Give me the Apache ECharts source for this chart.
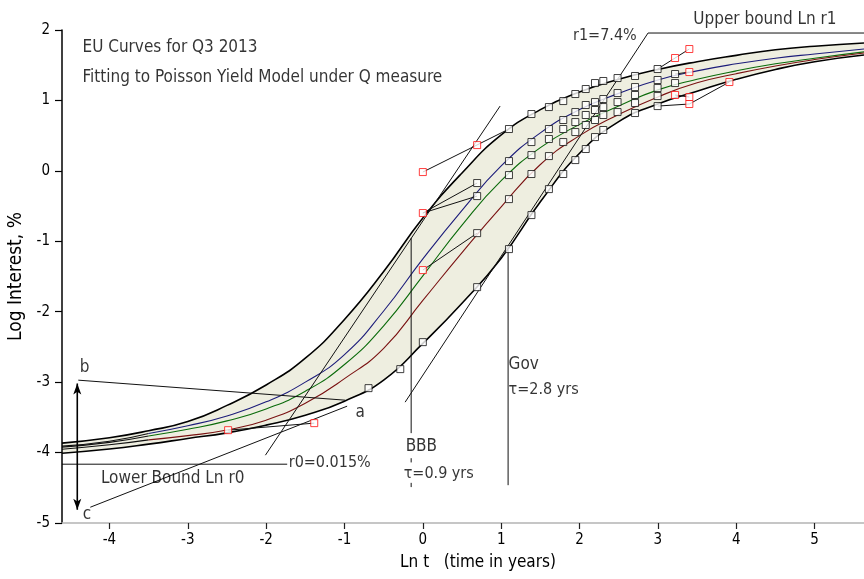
<!DOCTYPE html>
<html><head><meta charset="utf-8">
<script src="https://cdn.jsdelivr.net/npm/echarts@6/dist/echarts.min.js"></script>
<style>html,body{margin:0;padding:0;background:#fff}#c{width:864px;height:579px}</style>
</head><body><div id="c"></div>
<script>
const FONT = "'Liberation Sans Narrow','Arial Narrow','DejaVu Sans Condensed',sans-serif";
const FILL = '#eeeee0';

// axis ranges and ticks
const xRange = [-4.605, 5.63];
const yRange = [-5, 2];
const xTicks = [-4, -3, -2, -1, 0, 1, 2, 3, 4, 5];

// curves: [ln t, log interest]
const upperCurve = [[-4.605,-3.866],[-4.0,-3.79],[-3.5,-3.69],[-3.0,-3.56],[-2.5,-3.33],[-2.0,-3.04],[-1.5,-2.66],[-1.0,-2.11],[-0.5,-1.43],[0.0,-0.67],[0.5,-0.03],[1.0,0.51],[1.5,0.87],[2.0,1.12],[2.5,1.30],[3.0,1.44],[3.5,1.55],[4.0,1.64],[4.5,1.72],[5.0,1.77],[5.63,1.815]];
const lowerCurve = [[-4.605,-4.009],[-4.0,-3.95],[-3.5,-3.88],[-3.0,-3.80],[-2.5,-3.72],[-2.0,-3.61],[-1.5,-3.47],[-1.0,-3.27],[-0.5,-2.97],[0.0,-2.45],[0.5,-1.88],[1.0,-1.24],[1.5,-0.44],[2.0,0.25],[2.5,0.70],[3.0,0.95],[3.5,1.13],[4.0,1.30],[4.5,1.44],[5.0,1.55],[5.63,1.645]];
const blueTail = [[-4.605,-3.909],[-4.0,-3.84],[-3.5,-3.73]];
const blueCurve = [[-3.5,-3.73],[-3.0,-3.62],[-2.5,-3.48],[-2.0,-3.28],[-1.5,-3.00],[-1.0,-2.61],[-0.5,-1.99],[0.0,-1.25],[0.5,-0.56],[1.0,0.07],[1.5,0.54],[2.0,0.87],[2.5,1.10],[3.0,1.29],[3.5,1.42],[4.0,1.52],[4.5,1.60],[5.0,1.66],[5.63,1.73]];
const greenTail = [[-4.605,-3.923],[-4.0,-3.855],[-3.5,-3.765]];
const greenCurve = [[-3.5,-3.765],[-3.0,-3.67],[-2.5,-3.55],[-2.0,-3.38],[-1.5,-3.13],[-1.0,-2.75],[-0.5,-2.20],[0.0,-1.49],[0.5,-0.77],[1.0,-0.14],[1.5,0.33],[2.0,0.66],[2.5,0.92],[3.0,1.15],[3.5,1.30],[4.0,1.42],[4.5,1.52],[5.0,1.60],[5.63,1.69]];
const redTail = [[-4.605,-3.952],[-4.0,-3.89],[-3.5,-3.82]];
const redCurve = [[-3.5,-3.82],[-3.0,-3.76],[-2.5,-3.68],[-2.0,-3.54],[-1.5,-3.30],[-1.0,-2.95],[-0.5,-2.52],[0.0,-1.84],[0.5,-1.16],[1.0,-0.51],[1.5,0.09],[2.0,0.50],[2.5,0.80],[3.0,1.05],[3.5,1.25],[4.0,1.38],[4.5,1.49],[5.0,1.58],[5.63,1.673]];

// fitted points (black squares)
const blackSquares = [
  [-0.693,-3.085],[-0.288,-2.815],[0,-2.432],[0.693,-1.651],[1.099,-1.111],[1.386,-0.628],[1.609,-0.259],[1.792,-0.045],[1.946,0.153],[2.079,0.310],[2.197,0.480],[2.303,0.580],[2.708,0.821],[2.996,0.920],
  [1.099,0.594],[1.386,0.807],[1.609,0.906],[1.792,0.991],[1.946,1.091],[2.079,1.162],[2.197,1.247],[2.303,1.276],[2.485,1.318],[2.708,1.347],[2.996,1.446],
  [0.693,-0.173],[1.099,0.139],[1.386,0.409],[1.609,0.594],[1.792,0.722],[1.946,0.835],[2.079,0.935],[2.197,0.977],[2.303,1.020],[2.485,1.105],[2.708,1.190],[2.996,1.290],[3.219,1.375],
  [0.693,-0.358],[1.099,-0.060],[1.386,0.224],[1.609,0.452],[1.792,0.594],[1.946,0.693],[2.079,0.793],[2.197,0.864],[2.303,0.906],[2.485,0.977],[2.708,1.077],[2.996,1.176],[3.219,1.247],
  [0.693,-0.884],[1.099,-0.401],[1.386,-0.045],[1.609,0.210],[1.792,0.409],[1.946,0.551],[2.079,0.651],[2.197,0.722],[2.303,0.793],[2.485,0.835],[2.708,0.963],[2.996,1.062]
];
// observed points (red squares)
const redSquares = [[-2.485,-3.682],[-1.386,-3.582],[0,-0.017],[0,-0.599],[0,-1.409],[0.693,0.366],[3.219,1.602],[3.219,1.077],[3.401,1.730],[3.401,1.403],[3.401,1.048],[3.401,0.949],[3.912,1.261]];

// connecting lines between observed and fitted points
const leaderLines = [
  [[0,-0.017],[1.099,0.594]],
  [[0,-0.599],[0.693,-0.173]],
  [[0,-0.599],[0.693,-0.358]],
  [[0,-1.409],[0.693,-0.884]],
  [[-2.485,-3.682],[-1.386,-3.582]],
  [[2.996,1.446],[3.401,1.730]],
  [[2.996,0.920],[3.401,0.949]],
  [[3.401,0.949],[3.912,1.261]],
  [[3.219,1.375],[3.401,1.403]],
  [[3.219,1.077],[3.401,1.048]]
];
// annotation lines
const annotationLines = [
  [[-4.397,-2.972],[-0.991,-3.256]],
  [[-4.244,-4.776],[-0.966,-3.341]],
  [[-4.605,-4.165],[-1.731,-4.165]],
  [[-2.009,-4.037],[0.986,0.92]],
  [[-0.226,-3.284],[2.874,1.957]],
  [[2.874,1.957],[5.63,1.957]],
  [[-0.149,-0.955],[-0.149,-3.724]],
  [[-0.149,-4.08],[-0.149,-4.14]],
  [[-0.149,-4.43],[-0.149,-4.49]],
  [[1.088,-1.125],[1.088,-4.463]]
];
const arrowLine = [[-4.41,-3.021],[-4.41,-4.811]];

// texts: [text, x, y, anchor, size class]
const texts = [
  ['EU Curves for Q3 2013', -4.35, 1.744, 'start', 'L'],
  ['Fitting to Poisson Yield Model under Q measure', -4.35, 1.318, 'start', 'L'],
  ['Upper bound Ln r1', 3.445, 2.142, 'start', 'L'],
  ['r1=7.4%', 2.736, 1.915, 'end', 'M'],
  ['r0=0.015%', -1.718, -4.15, 'start', 'M'],
  ['Lower Bound Ln r0', -4.115, -4.364, 'start', 'L'],
  ['a', -0.865, -3.426, 'start', 'L'],
  ['b', -4.384, -2.787, 'start', 'L'],
  ['c', -4.346, -4.875, 'start', 'L'],
  ['BBB', -0.226, -3.909, 'start', 'L'],
  ['\u03c4=0.9 yrs', -0.251, -4.307, 'start', 'M'],
  ['Gov', 1.088, -2.744, 'start', 'L'],
  ['\u03c4=2.8 yrs', 1.088, -3.114, 'start', 'M']
];

const chart = echarts.init(document.getElementById('c'), null, {renderer: 'canvas'});
function curve(data, color, width, z) {
  return {type: 'line', data: data, smooth: 0.5, showSymbol: false, silent: true, animation: false,
    lineStyle: {color: color, width: width}, z: z};
}
const series = [];
series.push(Object.assign(curve(upperCurve, '#000', 1.6, 1), {areaStyle: {color: FILL, opacity: 1, origin: 'start'}}));
series.push(Object.assign(curve(lowerCurve, '#000', 1.6, 1), {areaStyle: {color: '#fff', opacity: 1, origin: 'start'}}));
series.push(curve(blueTail, '#111', 1.1, 3));
series.push(curve(greenTail, '#111', 1.1, 3));
series.push(curve(redTail, '#111', 1.1, 3));
series.push(curve(blueCurve, '#1c1c7a', 1.1, 3));
series.push(curve(greenCurve, '#0b6b0b', 1.1, 3));
series.push(curve(redCurve, '#7a1212', 1.1, 3));
annotationLines.concat(leaderLines).forEach(seg => {
  series.push({type: 'line', data: seg, showSymbol: false, silent: true, animation: false, clip: false,
    lineStyle: {color: '#111', width: 1}, z: 4});
});
series.push({type: 'line', data: [
    {value: arrowLine[0], symbolRotate: 0},
    {value: arrowLine[1], symbolRotate: 180}],
  symbol: 'arrow', symbolSize: [6, 11], showSymbol: true, showAllSymbol: true, silent: true, animation: false,
  itemStyle: {color: '#000'}, lineStyle: {color: '#000', width: 1.6}, z: 4});
series.push({type: 'scatter', data: blackSquares, symbol: 'rect', symbolSize: 7, silent: true, animation: false,
  itemStyle: {color: '#fff', borderColor: '#111', borderWidth: 1}, z: 6});
series.push({type: 'scatter', data: redSquares, symbol: 'rect', symbolSize: 7, silent: true, animation: false,
  itemStyle: {color: '#fff', borderColor: '#ff1010', borderWidth: 1}, z: 6});
series.push({type: 'scatter', clip: false, silent: true, animation: false, symbol: 'circle', symbolSize: 1,
  itemStyle: {color: 'rgba(0,0,0,0)'}, z: 7,
  data: texts.map(t => ({name: t[0], value: [t[1], t[2]],
    label: {position: t[3] === 'end' ? 'left' : 'right', fontSize: t[4] === 'L' ? 17 : 16}})),
  label: {show: true, formatter: function (p) { return p.name; }, distance: 0, color: '#000', fontSize: 17, fontFamily: FONT},
  labelLayout: {hideOverlap: false}
});

chart.setOption({
  animation: false,
  backgroundColor: '#fff',
  grid: {left: 62, right: 0, top: 30, bottom: 56, containLabel: false, outerBoundsMode: 'none'},
  xAxis: {type: 'value', min: xRange[0], max: xRange[1], z: 10,
    name: 'Ln t   (time in years)', nameLocation: 'middle', nameGap: 31,
    nameTextStyle: {color: '#000', fontSize: 17, fontFamily: FONT, padding: [0, 0, 0, 30]},
    axisLine: {show: true, onZero: false, lineStyle: {color: '#b4b4b4', width: 1.5}},
    axisTick: {show: true, length: 6, customValues: xTicks, lineStyle: {color: '#222', width: 1.2}},
    axisLabel: {customValues: xTicks, margin: 10, color: '#000', fontSize: 15, fontFamily: FONT},
    splitLine: {show: false}},
  yAxis: {type: 'value', min: yRange[0], max: yRange[1], interval: 1, z: 10,
    name: 'Log Interest, %', nameLocation: 'middle', nameGap: 35, nameRotate: 90,
    nameTextStyle: {color: '#000', fontSize: 19, fontFamily: FONT},
    axisLine: {show: true, onZero: false, lineStyle: {color: '#000', width: 1.5}},
    axisTick: {show: true, length: 7, lineStyle: {color: '#000', width: 1.2}},
    axisLabel: {margin: 12, color: '#000', fontSize: 15, fontFamily: FONT},
    splitLine: {show: false}},
  series: series
});
</script></body></html>
